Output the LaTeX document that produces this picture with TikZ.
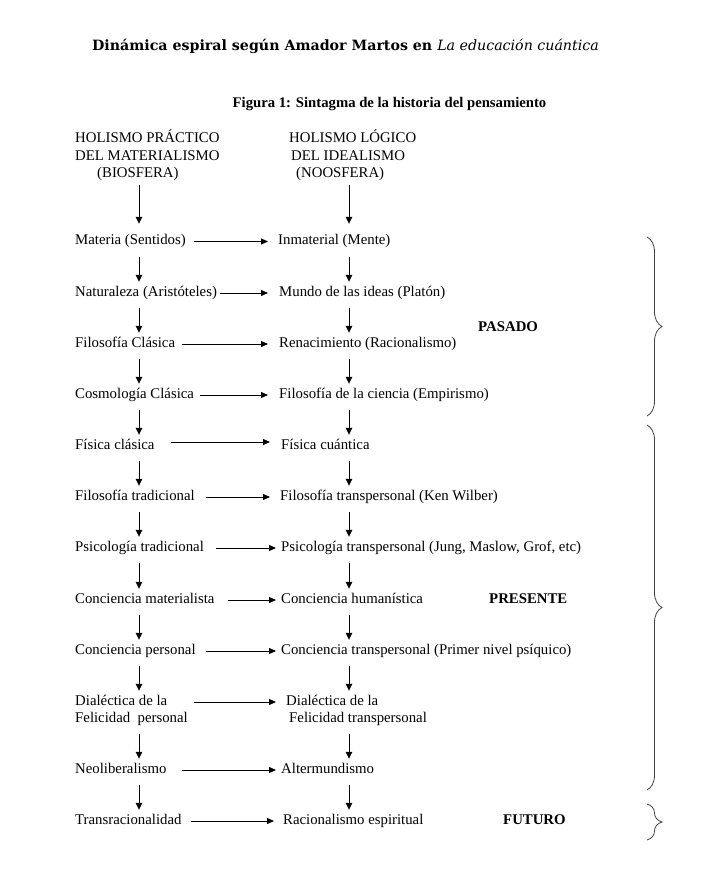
\documentclass[tikz,border=0pt]{standalone}
\usepackage{fontspec}
\setmainfont{Liberation Serif}
\newfontfamily\titlefont{DejaVu Serif}
\usetikzlibrary{arrows.meta,decorations.pathreplacing}
\begin{document}
\begin{tikzpicture}[x=1pt,y=-1pt,
  every node/.style={inner sep=0pt},
  txt/.style={anchor=west, text height=10pt, text depth=3.5pt, font=\fontsize{14.8}{17}\selectfont},
  lbl/.style={txt, font=\fontsize{14.8}{17}\selectfont\bfseries},
  harr/.style={-{Triangle[length=7pt,width=6pt]}, line width=1pt},
  varr/.style={-{Triangle[length=7pt,width=6.5pt]}, line width=1pt, shorten <=8.25pt, shorten >=4.25pt},
  brc/.style={decorate, decoration={brace, amplitude=15pt}, draw=black!75, line width=0.8pt}
]
\useasboundingbox (0,0) rectangle (720,872);
\coordinate (cL) at (139,0);
\coordinate (cR) at (349,0);

% title and caption
\node (title) at (345.5,46) {\titlefont\fontsize{14.2}{17}\selectfont\bfseries Dinámica espiral según Amador Martos en \mdseries\itshape La educación cuántica};
\node (cap) at (389.5,104) {\fontsize{14.7}{17}\selectfont\bfseries Figura 1: Sintagma de la historia del pensamiento};

% headers
\node[txt] (h1a) at (75,139.5) {HOLISMO PRÁCTICO};
\node[txt] (h1b) at (75,157) {DEL MATERIALISMO};
\node[txt] (h1c) at (97,174.5) {(BIOSFERA)};
\node[txt] (h2a) at (289,139.5) {HOLISMO LÓGICO};
\node[txt] (h2b) at (291,157) {DEL IDEALISMO};
\node[txt] (h2c) at (296,174.5) {(NOOSFERA)};

% left column
\node[txt] (l1) at (75,241.5) {Materia (Sentidos)};
\node[txt] (l2) at (75,293) {Naturaleza (Aristóteles)};
\node[txt] (l3) at (75,344) {Filosofía Clásica};
\node[txt] (l4) at (75,395) {Cosmología Clásica};
\node[txt] (l5) at (75,446) {Física clásica};
\node[txt] (l6) at (75,497) {Filosofía tradicional};
\node[txt] (l7) at (75,548) {Psicología tradicional};
\node[txt] (l8) at (75,600) {Conciencia materialista};
\node[txt] (l9) at (75,651) {Conciencia personal};
\node[txt] (l10) at (75,702) {Dialéctica de la};
\node[txt] (l10b) at (75,719) {Felicidad\ \ personal};
\node[txt] (l11) at (75,770) {Neoliberalismo};
\node[txt] (l12) at (75,821) {Transracionalidad};

% right column
\node[txt] (r1) at (278,241.5) {Inmaterial (Mente)};
\node[txt] (r2) at (279,293) {Mundo de las ideas (Platón)};
\node[txt] (r3) at (279,344) {Renacimiento (Racionalismo)};
\node[txt] (r4) at (279,395) {Filosofía de la ciencia (Empirismo)};
\node[txt] (r5) at (281,446) {Física cuántica};
\node[txt] (r6) at (280,497) {Filosofía transpersonal (Ken Wilber)};
\node[txt] (r7) at (281,548) {Psicología transpersonal (Jung, Maslow, Grof, etc)};
\node[txt] (r8) at (281,600) {Conciencia humanística};
\node[txt] (r9) at (281,651) {Conciencia transpersonal (Primer nivel psíquico)};
\node[txt] (r10) at (286,702) {Dialéctica de la};
\node[txt] (r10b) at (289,719) {Felicidad transpersonal};
\node[txt] (r11) at (281,770) {Altermundismo};
\node[txt] (r12) at (283,821) {Racionalismo espiritual};

% era labels
\node[lbl] (pasado) at (478,328) {PASADO};
\node[lbl] (presente) at (489,600) {PRESENTE};
\node[lbl] (futuro) at (503,821) {FUTURO};

% horizontal arrows
\draw[harr, shorten <=8pt, shorten >=10pt] (l1.east) -- (r1.west);
\draw[harr, shorten <=3pt, shorten >=11pt] (l2.east) -- (r2.west);
\draw[harr, shorten <=7pt, shorten >=11pt] (l3.east) -- (r3.west);
\draw[harr, shorten <=6pt, shorten >=11pt] (l4.east) -- (r4.west);
\draw[harr, shorten <=16pt, shorten >=11pt] ([yshift=4pt]l5.east) -- ([yshift=4pt]r5.west);
\draw[harr, shorten <=11pt, shorten >=10pt] (l6.east) -- (r6.west);
\draw[harr, shorten <=12pt, shorten >=5pt] (l7.east) -- (r7.west);
\draw[harr, shorten <=13pt, shorten >=5pt] (l8.east) -- (r8.west);
\draw[harr, shorten <=10pt, shorten >=5pt] (l9.east) -- (r9.west);
\draw[harr, shorten <=27pt, shorten >=10pt] (l10.east) -- (r10.west);
\draw[harr, shorten <=15pt, shorten >=5pt] (l11.east) -- (r11.west);
\draw[harr, shorten <=9pt, shorten >=9pt] (l12.east) -- (r12.west);

% vertical arrows
\draw[varr, shorten <=3.75pt, shorten >=10.75pt] (h1c.south -| cL) -- (l1.north -| cL);
\draw[varr, shorten <=3.75pt, shorten >=10.75pt] (h2c.south -| cR) -- (r1.north -| cR);
\foreach \a/\b in {l1/l2,l2/l3,l3/l4,l4/l5,l5/l6,l6/l7,l7/l8,l8/l9,l9/l10,l10b/l11,l11/l12}
  \draw[varr] (\a.south -| cL) -- (\b.north -| cL);
\foreach \a/\b in {r1/r2,r2/r3,r3/r4,r4/r5,r5/r6,r6/r7,r7/r8,r8/r9,r9/r10,r10b/r11,r11/r12}
  \draw[varr] (\a.south -| cR) -- (\b.north -| cR);

% braces
\draw[brc] (647,237) -- (647,416);
\draw[brc] (647,425) -- (647,790);
\draw[brc] (647,804) -- (647,840);
\end{tikzpicture}
\end{document}
